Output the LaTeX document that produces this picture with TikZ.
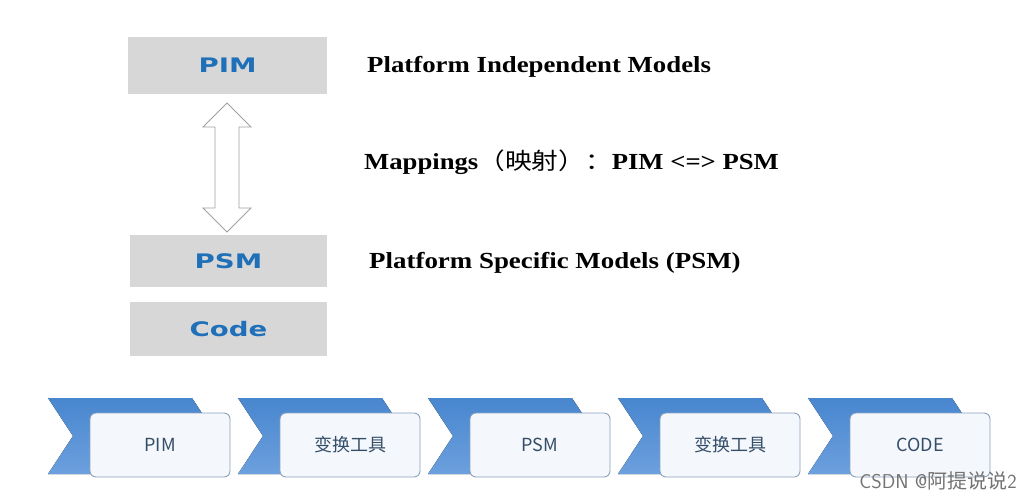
\documentclass[tikz,border=0pt]{standalone}
\usepackage{fontspec}
\usepackage{graphicx}
\setmainfont{Liberation Serif}
\newfontfamily\cjk{Noto Sans CJK SC}
\newfontfamily\boxfont{DejaVu Sans}
\usetikzlibrary{shapes.geometric}
\definecolor{boxgray}{RGB}{215,215,215}
\definecolor{boxblue}{RGB}{31,112,184}
\definecolor{chevtop}{RGB}{72,134,206}
\definecolor{chevbot}{RGB}{108,160,222}
\definecolor{cardline}{RGB}{140,162,188}
\definecolor{cardfill}{RGB}{244,247,252}
\definecolor{cardtext}{RGB}{52,78,104}
\definecolor{arrowline}{RGB}{160,160,160}
\tikzset{
  graybox/.style={fill=boxgray, draw=none, inner sep=0pt, text=boxblue,
     font=\boxfont\bfseries\fontsize{20}{22}\selectfont},
  desc/.style={anchor=west, inner sep=0pt, font=\bfseries\fontsize{23}{25}\selectfont},
  card/.style={draw=cardline, line width=0.9pt, rounded corners=6pt, fill=cardfill,
     minimum width=140pt, minimum height=64pt, inner sep=0pt, text=cardtext,
     font=\cjk\fontsize{18}{20}\selectfont},
  chev/.style={top color=chevtop, bottom color=chevbot, draw=none},
}
\begin{document}
\begin{tikzpicture}[x=1pt,y=-1pt]
\useasboundingbox (0,0) rectangle (1031,499);
\fill[white] (0,0) rectangle (1031,499);
% gray boxes
\node[graybox, minimum width=199pt, minimum height=57pt] (pim) at (227.5,65.5) {\scalebox{1.38}[1]{PIM}};
\node[graybox, minimum width=197pt, minimum height=52pt] (psm) at (228.5,261) {\scalebox{1.38}[1]{PSM}};
\node[graybox, minimum width=197pt, minimum height=54pt] (code) at (228.5,329) {\scalebox{1.38}[1]{Code}};
% double block arrow
\coordinate (tt) at (227,103);
\coordinate (bt) at (227,232);
\draw[arrowline, fill=white, line width=0.9pt, line join=miter]
  (tt) -- ++(24,24) -- ++(-12,0) -- ++(0,81) -- ++(12,0) -- (bt)
  -- ++(-24,-24) -- ++(12,0) -- ++(0,-81) -- ++(-12,0) -- cycle;
% descriptions
\node[desc] (d1) at (367,67) {\scalebox{1.165}[1]{Platform Independent Models}};
\node[desc] (d2) at (364,162) {\scalebox{1.16}[1]{Mappings{\cjk\mdseries （映射）：}PIM <=> PSM}};
\node[desc] (d3) at (369,263) {\scalebox{1.17}[1]{Platform Specific Models (PSM)}};
% chevrons and cards
\foreach \i/\t/\n in {0/PIM/c1,1/变换工具/c2,2/PSM/c3,3/变换工具/c4,4/CODE/c5}{
  \pgfmathsetmacro{\xo}{48+190*\i}
  \fill[chev] (\xo,398) -- ++(144,0) -- ++(25,38) -- ++(-25,38) -- ++(-144,0) -- ++(25,-38) -- cycle;
  \node[card] (\n) at (\xo+112,445) {\t};
}
\node[anchor=east, inner sep=0pt, text=black!55, font=\sffamily\fontsize{20}{22}\selectfont] (wm) at (1017,481) {CSDN @{\cjk 阿提说说}2};
\end{tikzpicture}
\end{document}
